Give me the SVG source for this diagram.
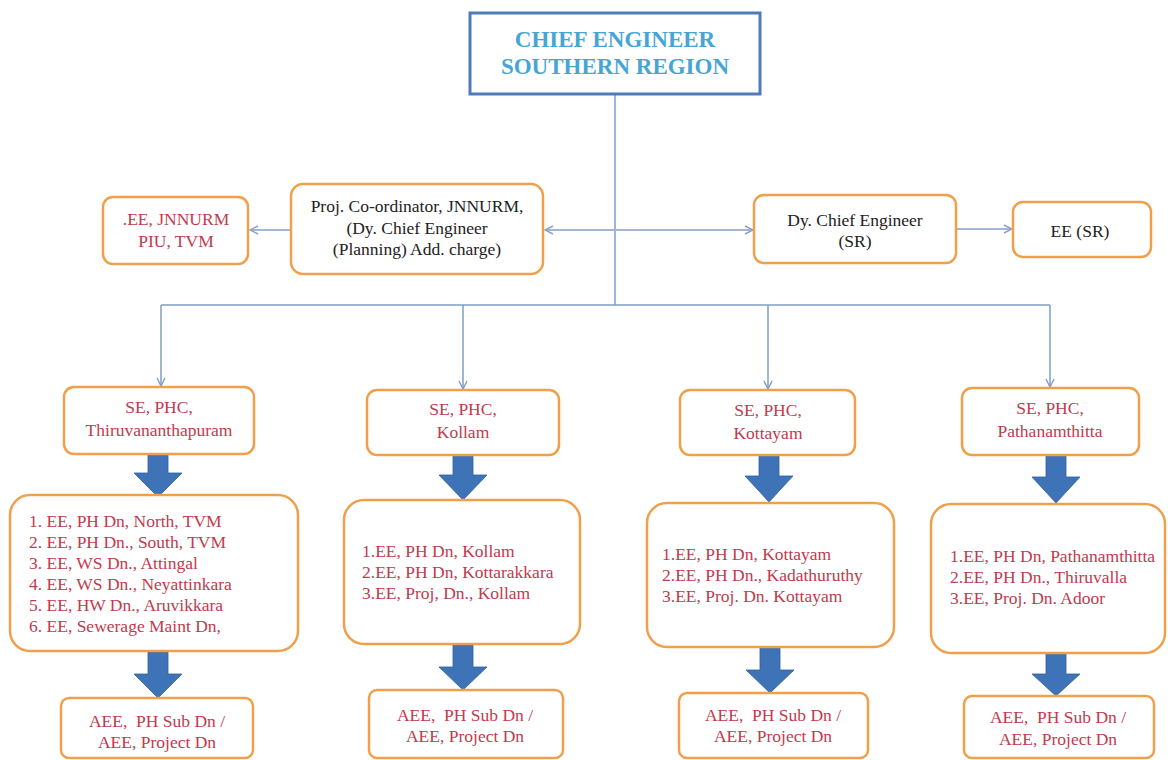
<svg xmlns="http://www.w3.org/2000/svg" width="1168" height="760" viewBox="0 0 1168 760">
<style>
.box{fill:#ffffff;stroke:#f0a04b;stroke-width:2.5}
.top{fill:#ffffff;stroke:#4f7cb8;stroke-width:3}
.ln{fill:none;stroke:#7f9cc9;stroke-width:1.5}
.ln2{fill:none;stroke:#a3b6d6;stroke-width:2.2}
.fat{fill:#3f73b8;stroke:#30609f;stroke-width:0.8}
</style>
<defs>
<marker id="ah" markerWidth="10" markerHeight="10" refX="9" refY="5" orient="auto" markerUnits="userSpaceOnUse">
<path d="M1,1 L9,5 L1,9" fill="none" stroke="#7f9cc9" stroke-width="1.4"/>
</marker>
<marker id="ahs" markerWidth="10" markerHeight="10" refX="9" refY="5" orient="auto" markerUnits="userSpaceOnUse">
<path d="M1,1 L9,5 L1,9" fill="none" stroke="#8aa2c8" stroke-width="1.4"/>
</marker>
</defs>

<g id="connectors">
<path class="ln" d="M615,94 V305"/>
<path class="ln" d="M161,305 H1050"/>
<path class="ln" d="M161,305 V386" marker-end="url(#ah)"/>
<path class="ln" d="M463,305 V389" marker-end="url(#ah)"/>
<path class="ln" d="M768,305 V389" marker-end="url(#ah)"/>
<path class="ln" d="M1050,305 V387" marker-end="url(#ah)"/>
<path class="ln2" d="M615,230 H545" marker-end="url(#ahs)"/>
<path class="ln2" d="M615,230 H753" marker-end="url(#ahs)"/>
<path class="ln2" d="M290,230 H250" marker-end="url(#ahs)"/>
<path class="ln2" d="M956,229 H1012" marker-end="url(#ahs)"/>
<polygon class="fat" points="148,454 168,454 168,473 182,473 158,497 134,473 148,473"/>
<polygon class="fat" points="453,455 473,455 473,475 487,475 463,500 439,475 453,475"/>
<polygon class="fat" points="759,453 779,453 779,476 793,476 769,502 745,476 759,476"/>
<polygon class="fat" points="1046,455 1066,455 1066,477 1080,477 1056,503 1032,477 1046,477"/>
<polygon class="fat" points="148,652 168,652 168,674 182,674 158,698 134,674 148,674"/>
<polygon class="fat" points="453,645 473,645 473,667 487,667 463,690 439,667 453,667"/>
<polygon class="fat" points="760,647 780,647 780,670 794,670 770,693 746,670 760,670"/>
<polygon class="fat" points="1046,653 1066,653 1066,674 1080,674 1056,696 1032,674 1046,674"/>
</g>

<g id="chief">
<rect class="top" x="470" y="13" width="290" height="81"/>
<text x="615" y="47" font-family="Liberation Serif" font-size="23" font-weight="bold" fill="#45a6d6" text-anchor="middle">CHIEF ENGINEER</text>
<text x="615" y="74" font-family="Liberation Serif" font-size="23" font-weight="bold" fill="#45a6d6" text-anchor="middle">SOUTHERN REGION</text>
</g>

<g id="proj" fill="#222222" text-anchor="middle" font-size="17.5">
<rect class="box" x="291" y="184" width="252" height="90" rx="12"/>
<text x="417" y="212" font-family="Liberation Serif">Proj. Co-ordinator, JNNURM,</text>
<text x="417" y="234" font-family="Liberation Serif">(Dy. Chief Engineer</text>
<text x="417" y="255" font-family="Liberation Serif">(Planning) Add. charge)</text>
</g>

<g id="ee-jnnurm" fill="#c23a4e" text-anchor="middle" font-size="17.5">
<rect class="box" x="103" y="197" width="145" height="67" rx="10"/>
<text x="176" y="225" font-family="Liberation Serif">.EE, JNNURM</text>
<text x="176" y="247" font-family="Liberation Serif">PIU, TVM</text>
</g>

<g id="dy-ce" fill="#222222" text-anchor="middle" font-size="17.5">
<rect class="box" x="754" y="195" width="202" height="68" rx="10"/>
<text x="855" y="226" font-family="Liberation Serif">Dy. Chief Engineer</text>
<text x="855" y="247" font-family="Liberation Serif">(SR)</text>
</g>

<g id="ee-sr" fill="#222222" text-anchor="middle" font-size="17.5">
<rect class="box" x="1013" y="202" width="138" height="55" rx="10"/>
<text x="1080" y="237" font-family="Liberation Serif">EE (SR)</text>
</g>

<g id="se-tvm" fill="#c23a4e" text-anchor="middle" font-size="17.5">
<rect class="box" x="64" y="387" width="190" height="67" rx="10"/>
<text x="159" y="413" font-family="Liberation Serif">SE, PHC,</text>
<text x="159" y="436" font-family="Liberation Serif">Thiruvananthapuram</text>
</g>
<g id="se-kollam" fill="#c23a4e" text-anchor="middle" font-size="17.5">
<rect class="box" x="367" y="390" width="192" height="65" rx="10"/>
<text x="463" y="415" font-family="Liberation Serif">SE, PHC,</text>
<text x="463" y="438" font-family="Liberation Serif">Kollam</text>
</g>
<g id="se-kottayam" fill="#c23a4e" text-anchor="middle" font-size="17.5">
<rect class="box" x="680" y="390" width="175" height="65" rx="10"/>
<text x="768" y="416" font-family="Liberation Serif">SE, PHC,</text>
<text x="768" y="439" font-family="Liberation Serif">Kottayam</text>
</g>
<g id="se-pta" fill="#c23a4e" text-anchor="middle" font-size="17.5">
<rect class="box" x="962" y="388" width="177" height="67" rx="10"/>
<text x="1050" y="414" font-family="Liberation Serif">SE, PHC,</text>
<text x="1050" y="437" font-family="Liberation Serif">Pathanamthitta</text>
</g>

<g id="ee-tvm" fill="#c23a4e" font-size="17.5">
<rect class="box" x="10" y="495" width="288" height="156" rx="20"/>
<text x="29" y="527" font-family="Liberation Serif">1. EE, PH Dn, North, TVM</text>
<text x="29" y="548" font-family="Liberation Serif">2. EE, PH Dn., South, TVM</text>
<text x="29" y="569" font-family="Liberation Serif">3. EE, WS Dn., Attingal</text>
<text x="29" y="590" font-family="Liberation Serif">4. EE, WS Dn., Neyattinkara</text>
<text x="29" y="611" font-family="Liberation Serif">5. EE, HW Dn., Aruvikkara</text>
<text x="29" y="632" font-family="Liberation Serif">6. EE, Sewerage Maint Dn,</text>
</g>
<g id="ee-kollam" fill="#c23a4e" font-size="17.5">
<rect class="box" x="344" y="500" width="236" height="144" rx="20"/>
<text x="362" y="557" font-family="Liberation Serif">1.EE, PH Dn, Kollam</text>
<text x="362" y="578" font-family="Liberation Serif">2.EE, PH Dn, Kottarakkara</text>
<text x="362" y="599" font-family="Liberation Serif">3.EE, Proj, Dn., Kollam</text>
</g>
<g id="ee-kottayam" fill="#c23a4e" font-size="17.5">
<rect class="box" x="647" y="503" width="247" height="144" rx="20"/>
<text x="662" y="560" font-family="Liberation Serif">1.EE, PH Dn, Kottayam</text>
<text x="662" y="581" font-family="Liberation Serif">2.EE, PH Dn., Kadathuruthy</text>
<text x="662" y="602" font-family="Liberation Serif">3.EE, Proj. Dn. Kottayam</text>
</g>
<g id="ee-pta" fill="#c23a4e" font-size="17.5">
<rect class="box" x="931" y="504" width="234" height="149" rx="20"/>
<text x="950" y="562" font-family="Liberation Serif">1.EE, PH Dn, Pathanamthitta</text>
<text x="950" y="583" font-family="Liberation Serif">2.EE, PH Dn., Thiruvalla</text>
<text x="950" y="604" font-family="Liberation Serif">3.EE, Proj. Dn. Adoor</text>
</g>

<g id="aee-tvm" fill="#c23a4e" text-anchor="middle" font-size="17.5">
<rect class="box" x="61" y="698" width="192" height="60" rx="8"/>
<text x="157" y="727" font-family="Liberation Serif">AEE,&#160; PH Sub Dn /</text>
<text x="157" y="748" font-family="Liberation Serif">AEE, Project Dn</text>
</g>
<g id="aee-kollam" fill="#c23a4e" text-anchor="middle" font-size="17.5">
<rect class="box" x="369" y="690" width="194" height="68" rx="8"/>
<text x="465" y="721" font-family="Liberation Serif">AEE,&#160; PH Sub Dn /</text>
<text x="465" y="742" font-family="Liberation Serif">AEE, Project Dn</text>
</g>
<g id="aee-kottayam" fill="#c23a4e" text-anchor="middle" font-size="17.5">
<rect class="box" x="679" y="693" width="189" height="65" rx="8"/>
<text x="773" y="721" font-family="Liberation Serif">AEE,&#160; PH Sub Dn /</text>
<text x="773" y="742" font-family="Liberation Serif">AEE, Project Dn</text>
</g>
<g id="aee-pta" fill="#c23a4e" text-anchor="middle" font-size="17.5">
<rect class="box" x="964" y="696" width="190" height="62" rx="8"/>
<text x="1058" y="723" font-family="Liberation Serif">AEE,&#160; PH Sub Dn /</text>
<text x="1058" y="745" font-family="Liberation Serif">AEE, Project Dn</text>
</g>
</svg>
